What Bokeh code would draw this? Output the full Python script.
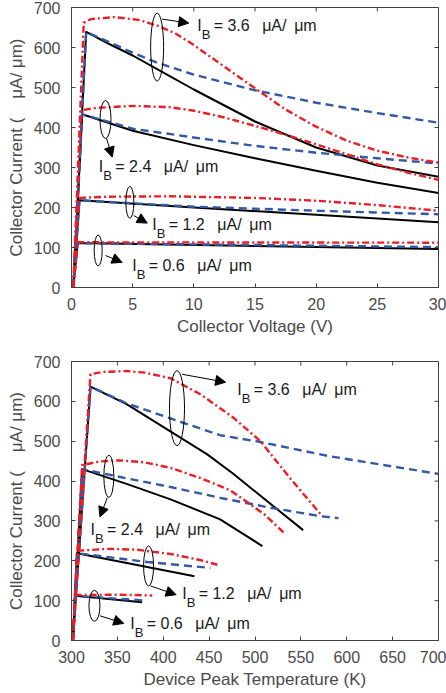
import math
from bokeh.plotting import figure
from bokeh.layouts import column
from bokeh.models import Arrow, NormalHead, ColumnDataSource, FixedTicker, Range1d
from bokeh.embed import file_html
from bokeh.resources import INLINE
from bokeh.core.properties import value

# ---------------- data: top panel (collector voltage, V) ----------------
top_xticks = [0, 5, 10, 15, 20, 25, 30]
yticks = [0, 100, 200, 300, 400, 500, 600, 700]

top_v_black_36 = [0.15, 1.2, 3, 5, 7, 10, 15, 20, 25, 30]
top_i_black_36 = [0, 639, 610, 580, 546, 495, 415, 350, 305, 277]
top_v_blue_36 = [0.15, 1.2, 5, 7, 10, 15, 20, 25, 30]
top_i_blue_36 = [0, 639, 587, 562, 532, 493, 462, 436, 412]
top_v_red_36 = [0.15, 1.0, 1.6, 3.5, 5.5, 7, 8.5, 10, 12.5, 15, 17.5, 20, 22.5, 25, 27.5, 30]
top_i_red_36 = [0, 662, 671, 676, 669, 655, 635, 606, 552, 498, 445, 402, 367, 342, 325, 312]

top_v_black_24 = [0.15, 0.87, 5, 10, 15, 20, 25, 30]
top_i_black_24 = [0, 433, 392, 356, 323, 292, 262, 236]
top_v_blue_24 = [0.15, 0.87, 5, 10, 15, 20, 25, 30]
top_i_blue_24 = [0, 433, 397, 375, 354, 337, 323, 310]
top_v_red_24 = [0.15, 0.8, 2, 5, 8, 10, 12.5, 15, 17.5, 20, 22.5, 25, 27.5, 30]
top_i_red_24 = [0, 443, 449, 454, 451, 442, 425, 404, 382, 358, 333, 308, 287, 269]

top_v_black_12 = [0.15, 0.65, 10, 20, 30]
top_i_black_12 = [0, 218, 200, 182, 163]
top_v_blue_12 = [0.15, 0.65, 10, 20, 30]
top_i_blue_12 = [0, 218, 202, 192, 183]
top_v_red_12 = [0.15, 0.6, 3, 8, 15, 20, 25, 30]
top_i_red_12 = [0, 224, 227, 228, 224, 217, 206, 192]

top_v_black_06 = [0.15, 0.5, 30]
top_i_black_06 = [0, 111, 96]
top_v_blue_06 = [0.15, 0.5, 30]
top_i_blue_06 = [0, 111, 101]
top_v_red_06 = [0.15, 0.5, 30]
top_i_red_06 = [0, 113, 112]

# ---------------- data: bottom panel (peak temperature, K) ----------------
bot_xticks = [300, 350, 400, 450, 500, 550, 600, 650, 700]

bot_t_black_36 = [301.5, 320.7, 360, 406, 448, 477, 513, 552.5]
bot_i_black_36 = [0, 637, 593, 527, 467, 417, 350, 277]
bot_t_blue_36 = [301.5, 320.7, 360, 408, 462, 506, 582, 700]
bot_i_blue_36 = [0, 637, 595, 557, 515, 498, 462, 418]
bot_t_red_36 = [301.5, 320.7, 335, 360, 380, 408, 441, 477, 506, 539, 573]
bot_i_red_36 = [0, 668, 674, 676, 672, 658, 617, 558, 500, 405, 313]

bot_t_black_24 = [301.5, 311.6, 360, 408, 462, 508]
bot_i_black_24 = [0, 430, 393, 354, 304, 237]
bot_t_blue_24 = [301.5, 311.6, 360, 408, 462, 517, 571, 591]
bot_i_blue_24 = [0, 430, 407, 385, 358, 333, 312, 307]
bot_t_red_24 = [301.5, 311.6, 330, 353, 380, 408, 440, 473, 510, 532]
bot_i_red_24 = [0, 440, 449, 452, 447, 433, 408, 377, 317, 269]

bot_t_black_12 = [301.5, 306, 370, 434]
bot_i_black_12 = [0, 219, 190, 161]
bot_t_blue_12 = [301.5, 306, 382.5, 451.5]
bot_i_blue_12 = [0, 219, 197, 182]
bot_t_red_12 = [301.5, 306, 340, 370, 408, 440, 459]
bot_i_red_12 = [0, 225, 230, 228, 217, 202, 190]

bot_t_black_06 = [301.5, 304, 377]
bot_i_black_06 = [0, 112, 96]
bot_t_blue_06 = [301.5, 304, 382]
bot_i_blue_06 = [0, 112, 100]
bot_t_red_06 = [301.5, 304, 350, 388]
bot_i_red_06 = [0, 114, 115, 113]

ib_values = ["3.6", "2.4", "1.2", "0.6"]

# ---------------- annotations ----------------
top_ell_x = [7.0, 2.78, 4.77, 2.18]
top_ell_y = [601, 420, 213, 92.5]
top_ell_w = [13, 11, 8, 8]
top_ell_h = [68, 38, 32, 31]
top_arr_x0 = [7.41, 2.86, 5.09, 2.78]
top_arr_y0 = [671, 373, 180, 80]
top_arr_x1 = [9.59, 3.33, 6.19, 4.14]
top_arr_y1 = [661, 326, 161, 63]
top_lbl_x = [10.27, 2.23, 6.6, 4.96]
top_lbl_y = [655, 303, 158, 55]

bot_ell_x = [415, 340.7, 384, 325]
bot_ell_y = [583, 412, 187, 87]
bot_ell_w = [15, 10, 10, 11]
bot_ell_h = [75, 42, 40, 31]
bot_arr_x0 = [420.6, 339, 386, 331]
bot_arr_y0 = [668, 358, 137, 62]
bot_arr_x1 = [468, 331, 414, 357]
bot_arr_y1 = [648, 310, 115, 43]
bot_lbl_x = [480.6, 320.7, 420.6, 364]
bot_lbl_y = [629, 279, 118, 43]

FONT = "Liberation Sans"
AX = "#404040"
LBL = "#4a4a4a"
TXT = "#1a1a1a"
RED = "#ee1c24"
BLUE = "#3458a8"


def style_axis(ax):
    ax.major_tick_in = 4
    ax.major_tick_out = 0
    ax.minor_tick_line_color = None
    ax.axis_line_color = AX
    ax.major_tick_line_color = AX
    ax.major_label_text_font = FONT
    ax.major_label_text_font_size = "16px"
    ax.major_label_text_color = LBL
    ax.axis_label_text_font = FONT
    ax.axis_label_text_font_size = "17px"
    ax.axis_label_text_font_style = "normal"
    ax.axis_label_text_color = LBL


def make_fig(xr, xticks, xlabel, h, top_b, bottom_b):
    p = figure(width=446, height=h,
               x_range=Range1d(*xr), y_range=Range1d(0, 700),
               output_backend="svg", toolbar_location=None,
               min_border_left=71, min_border_right=8,
               min_border_top=top_b, min_border_bottom=bottom_b)
    p.grid.visible = False
    p.outline_line_color = AX
    p.xaxis.ticker = FixedTicker(ticks=xticks)
    p.yaxis.ticker = FixedTicker(ticks=yticks)
    p.xaxis.axis_label = xlabel
    p.yaxis.axis_label = "Collector Current (\u00a0\u00a0\u00a0\u00a0\u03bcA/ \u03bcm)"
    style_axis(p.xaxis[0])
    style_axis(p.yaxis[0])
    p.xaxis.major_label_standoff = 10
    p.xaxis.axis_label_standoff = 4
    p.yaxis.major_label_standoff = 11
    p.yaxis.axis_label_standoff = 5
    # mirrored inward ticks on the top and right frame edges
    p.ray(x=xticks, y=[700] * len(xticks), length=4, length_units="screen",
          angle=-math.pi / 2, line_color=AX, line_width=1)
    p.ray(x=[xr[1]] * len(yticks), y=yticks, length=4, length_units="screen",
          angle=math.pi, line_color=AX, line_width=1)
    return p


def draw_curves(p, blacks, blues, reds):
    for xs, ys in blacks:
        p.line(xs, ys, line_color="black", line_width=2, line_join="round")
    for xs, ys in blues:
        p.line(xs, ys, line_color=BLUE, line_width=2.4, line_dash="8 5", line_join="round")
    for xs, ys in reds:
        p.line(xs, ys, line_color=RED, line_width=2.4, line_dash="7 3 2 3", line_join="round")


def draw_notes(p, ex, ey, ew, eh, ax0, ay0, ax1, ay1, lx, ly):
    p.ellipse(x=ex, y=ey, width=ew, height=eh, width_units="screen",
              height_units="screen", fill_color=None, line_color="black", line_width=1)
    src = ColumnDataSource(dict(x0=ax0, y0=ay0, x1=ax1, y1=ay1))
    p.add_layout(Arrow(source=src, x_start="x0", y_start="y0", x_end="x1", y_end="y1",
                       line_color="black", line_width=1,
                       end=NormalHead(size=10, fill_color="black", line_color="black")))
    ls = ColumnDataSource(dict(x=lx, y=ly, v=["= " + s for s in ib_values]))
    common = dict(source=ls, text_font=value(FONT), text_baseline="middle",
                  text_align="left", text_color=TXT)
    p.text(x="x", y="y", text=value("I"), text_font_size="16px", **common)
    p.text(x="x", y="y", text=value("B"), text_font_size="13px", x_offset=4.5, y_offset=9, **common)
    p.text(x="x", y="y", text="v", text_font_size="16px", x_offset=16.5, **common)
    p.text(x="x", y="y", text=value("\u03bcA/"), text_font_size="16px", x_offset=65, **common)
    p.text(x="x", y="y", text=value("\u03bcm"), text_font_size="16px", x_offset=97, **common)


top = make_fig((0, 30), top_xticks, "Collector Voltage (V)", 354, 7, 67)
draw_curves(top,
            [(top_v_black_36, top_i_black_36), (top_v_black_24, top_i_black_24),
             (top_v_black_12, top_i_black_12), (top_v_black_06, top_i_black_06)],
            [(top_v_blue_36, top_i_blue_36), (top_v_blue_24, top_i_blue_24),
             (top_v_blue_12, top_i_blue_12), (top_v_blue_06, top_i_blue_06)],
            [(top_v_red_36, top_i_red_36), (top_v_red_24, top_i_red_24),
             (top_v_red_12, top_i_red_12), (top_v_red_06, top_i_red_06)])
draw_notes(top, top_ell_x, top_ell_y, top_ell_w, top_ell_h,
           top_arr_x0, top_arr_y0, top_arr_x1, top_arr_y1, top_lbl_x, top_lbl_y)

bot = make_fig((300, 700), bot_xticks, "Device Peak Temperature (K)", 339, 7, 53)
draw_curves(bot,
            [(bot_t_black_36, bot_i_black_36), (bot_t_black_24, bot_i_black_24),
             (bot_t_black_12, bot_i_black_12), (bot_t_black_06, bot_i_black_06)],
            [(bot_t_blue_36, bot_i_blue_36), (bot_t_blue_24, bot_i_blue_24),
             (bot_t_blue_12, bot_i_blue_12), (bot_t_blue_06, bot_i_blue_06)],
            [(bot_t_red_36, bot_i_red_36), (bot_t_red_24, bot_i_red_24),
             (bot_t_red_12, bot_i_red_12), (bot_t_red_06, bot_i_red_06)])
draw_notes(bot, bot_ell_x, bot_ell_y, bot_ell_w, bot_ell_h,
           bot_arr_x0, bot_arr_y0, bot_arr_x1, bot_arr_y1, bot_lbl_x, bot_lbl_y)

p = column(top, bot, spacing=0)
open("out.html", "w").write(file_html(p, INLINE))
